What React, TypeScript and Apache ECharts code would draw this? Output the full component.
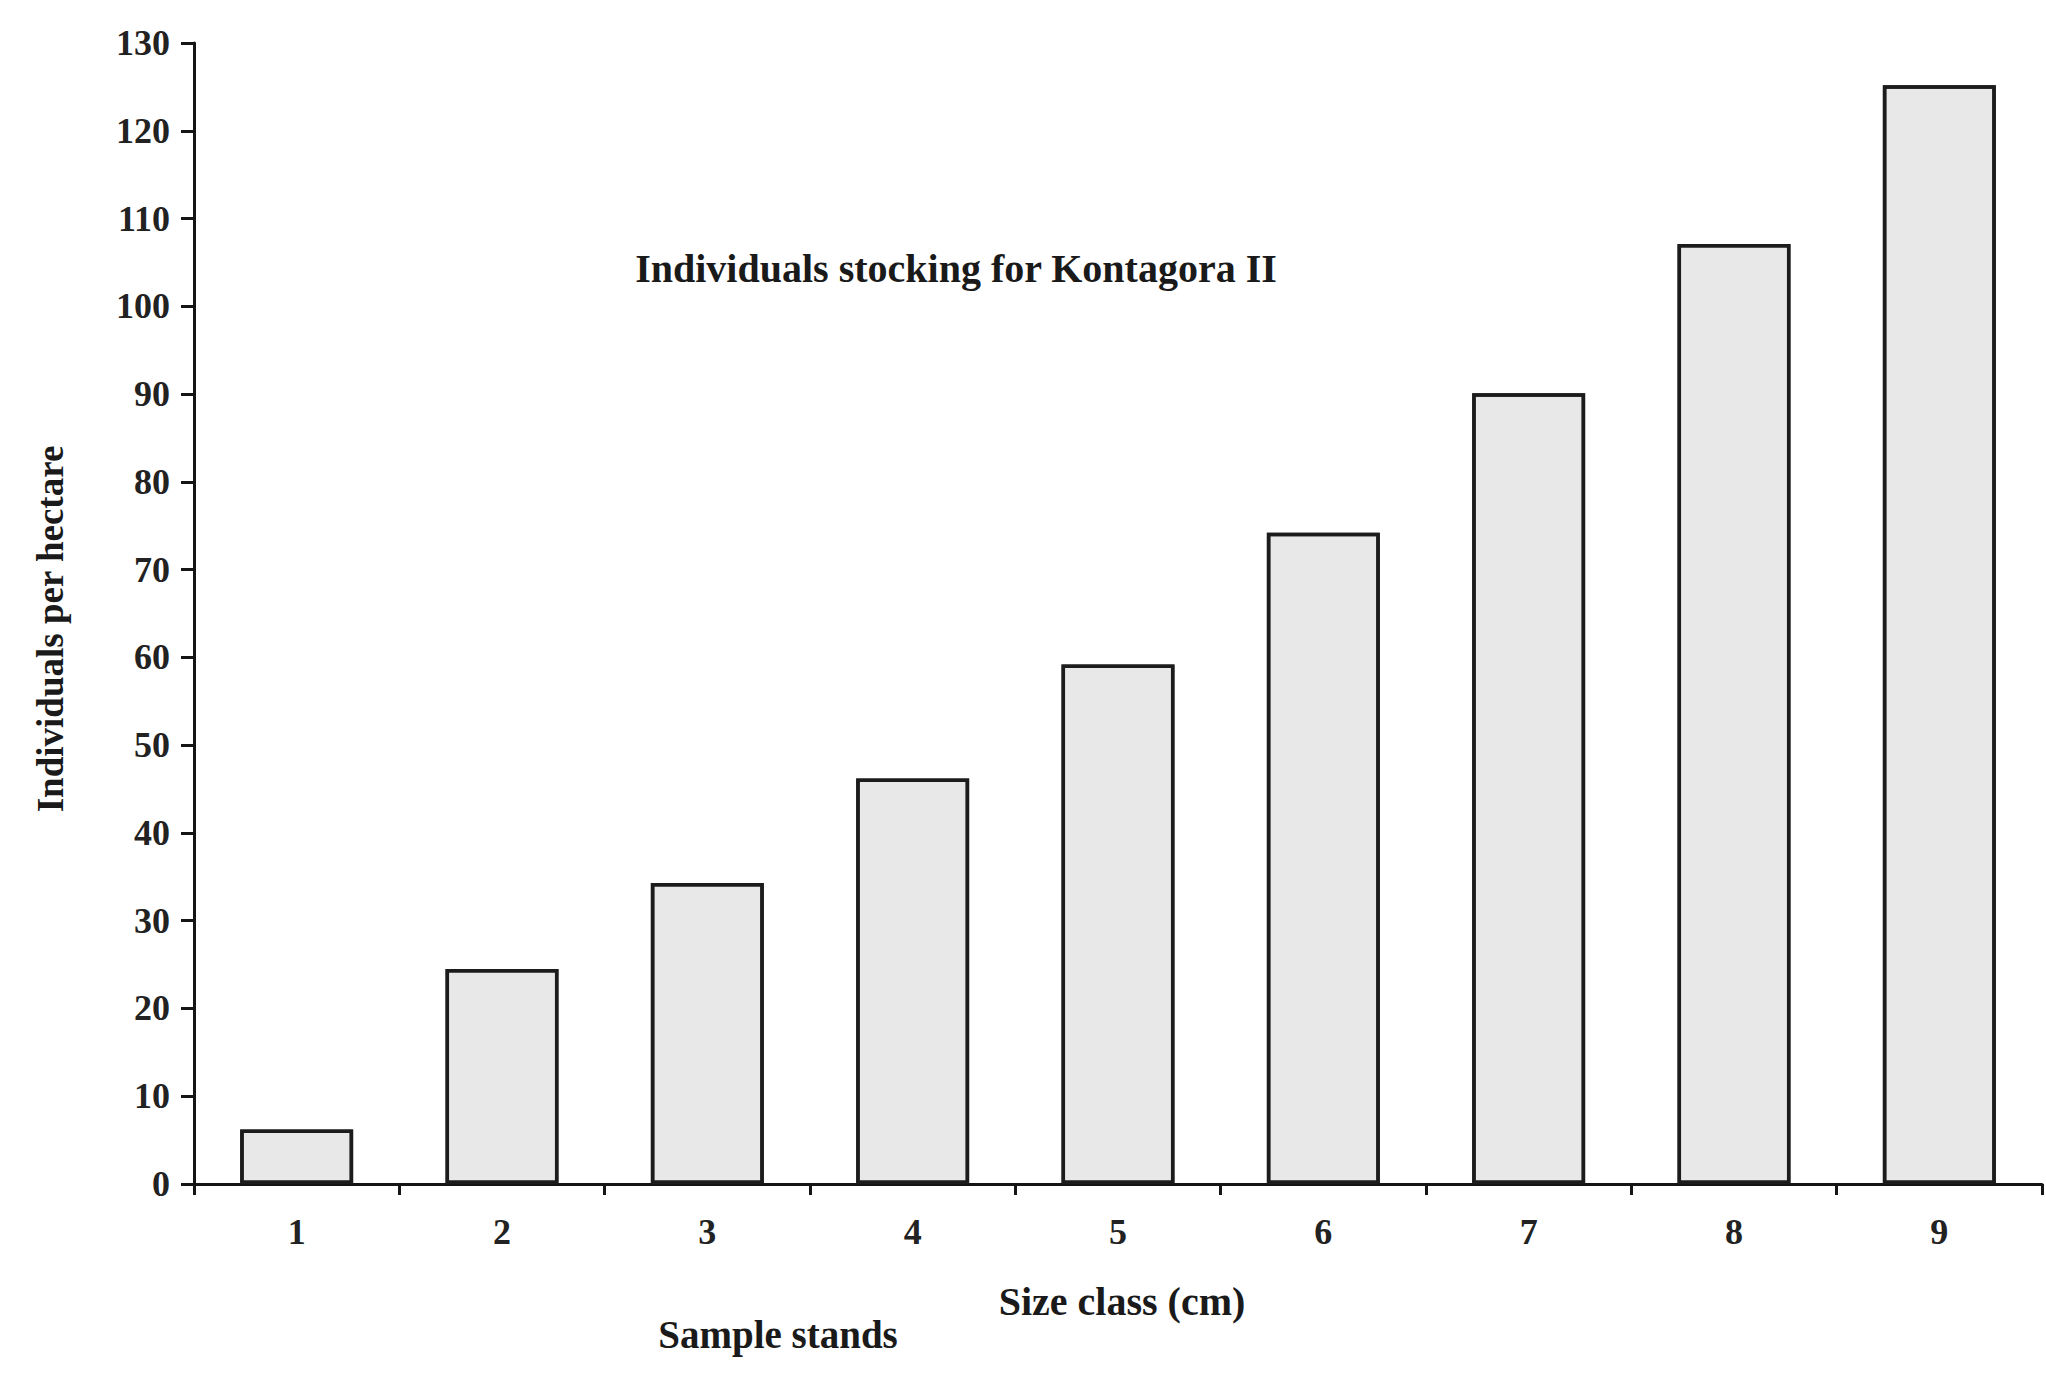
import React, { useEffect, useRef } from "react";
import * as echarts from "echarts";

const categories = ["1", "2", "3", "4", "5", "6", "7", "8", "9"];
const individualsPerHectare = [6.2, 24.5, 34.3, 46.2, 59.2, 74.2, 90.1, 107.1, 125.2];
const yMin = 0;
const yMax = 130;
const yInterval = 10;
const titleText = "Individuals stocking for Kontagora II";
const yAxisName = "Individuals per hectare";
const xAxisName = "Size class (cm)";
const subCaption = "Sample stands";

const FONT = "'Liberation Serif', 'DejaVu Serif', serif";

export default function App() {
  const ref = useRef<HTMLDivElement>(null);
  useEffect(() => {
    if (!ref.current) return;
    const chart = echarts.init(ref.current, undefined, { renderer: "svg" });
    chart.setOption({
      animation: false,
      backgroundColor: "#ffffff",
      aria: { enabled: true, decal: { show: true } },
      textStyle: { fontFamily: FONT, color: "#111" },
      grid: { left: 194, right: 4, top: 43, bottom: 195, containLabel: false },
      xAxis: {
        type: "category",
        data: categories,
        boundaryGap: true,
        axisLine: { show: true, lineStyle: { color: "#151515", width: 3 } },
        axisTick: { show: true, alignWithLabel: false, length: 11, lineStyle: { color: "#151515", width: 3 } },
        axisLabel: { margin: 30, fontSize: 36, fontWeight: "bold", fontFamily: FONT, color: "#222" },
        splitLine: { show: false },
      },
      yAxis: {
        type: "value",
        min: yMin,
        max: yMax,
        interval: yInterval,
        axisLine: { show: true, lineStyle: { color: "#151515", width: 3 } },
        axisTick: { show: true, inside: false, length: 13, lineStyle: { color: "#151515", width: 3 } },
        axisLabel: { margin: 24, fontSize: 36, fontWeight: "bold", fontFamily: FONT, color: "#222" },
        splitLine: { show: false },
      },
      series: [
        {
          type: "bar",
          data: individualsPerHectare,
          barWidth: "55%",
          itemStyle: {
            color: "#e8e8e8",
            borderColor: "#1c1c1c",
            borderWidth: 3.5,
            decal: {
              symbol: "circle",
              symbolSize: 0.5,
              color: "rgba(110,110,110,0.35)",
              dashArrayX: [[1, 6], [0, 3, 1, 3]],
              dashArrayY: [2, 5],
              rotation: 0.4,
            },
          },
        },
      ],
      graphic: [
        {
          type: "text",
          x: 956,
          y: 268,
          style: {
            text: titleText,
            fontSize: 40,
            fontWeight: "bold",
            fontFamily: FONT,
            fill: "#1a1a1a",
            align: "center",
            verticalAlign: "middle",
          },
        },
        {
          type: "text",
          x: 50,
          y: 629,
          rotation: Math.PI / 2,
          style: {
            text: yAxisName,
            fontSize: 37,
            fontWeight: "bold",
            fontFamily: FONT,
            fill: "#1a1a1a",
            align: "center",
            verticalAlign: "middle",
          },
        },
        {
          type: "text",
          x: 1122,
          y: 1301,
          style: {
            text: xAxisName,
            fontSize: 40,
            fontWeight: "bold",
            fontFamily: FONT,
            fill: "#1a1a1a",
            align: "center",
            verticalAlign: "middle",
          },
        },
        {
          type: "text",
          x: 778,
          y: 1334,
          style: {
            text: subCaption,
            fontSize: 39,
            fontWeight: "bold",
            fontFamily: FONT,
            fill: "#1a1a1a",
            align: "center",
            verticalAlign: "middle",
          },
        },
      ],
    });
    return () => chart.dispose();
  }, []);
  return (
    <div
      ref={ref}
      style={{ position: "fixed", left: 0, top: 0, width: 2046, height: 1379 }}
    />
  );
}
